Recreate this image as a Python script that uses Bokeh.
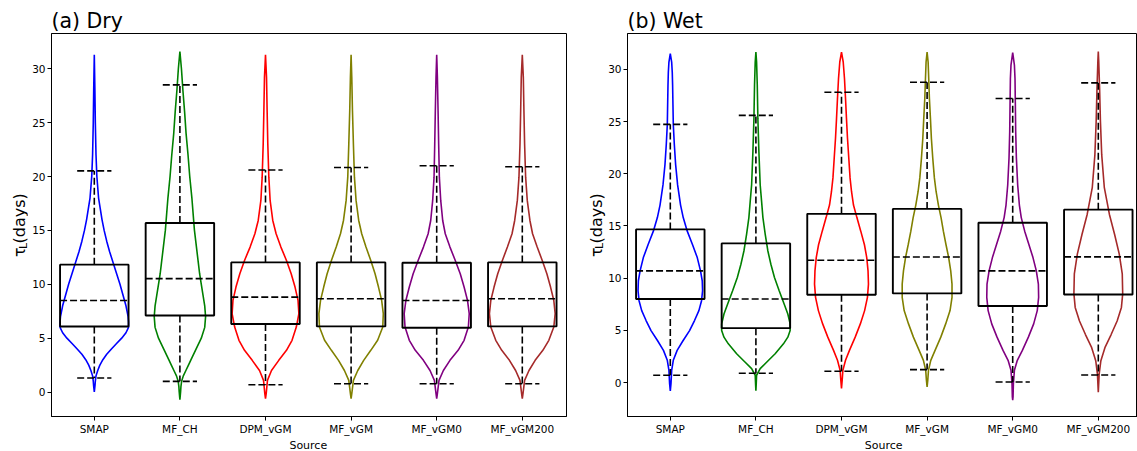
import numpy as np
from bokeh.plotting import figure
from bokeh.layouts import row, column
from bokeh.models import Range1d, FixedTicker
from bokeh.core.properties import value
from bokeh.embed import file_html
from bokeh.resources import INLINE

categories = ["SMAP", "MF_CH", "DPM_vGM", "MF_vGM", "MF_vGM0", "MF_vGM200"]
colors = ["blue", "green", "red", "olive", "purple", "brown"]
y_ticks = [0, 5, 10, 15, 20, 25, 30]

# ---- (a) Dry : box statistics ----
dry_low = [1.30, 0.99, 0.68, 0.77, 0.77, 0.77]
dry_q1 = [6.08, 7.10, 6.31, 6.09, 5.97, 6.09]
dry_med = [8.49, 10.52, 8.81, 8.66, 8.50, 8.66]
dry_q3 = [11.82, 15.68, 12.03, 12.03, 12.00, 12.03]
dry_high = [20.52, 28.50, 20.60, 20.84, 21.00, 20.90]

# ---- (a) Dry : violin profiles (value, half width) ----
dry_violin_y = [
    [0.0, 0.6, 1.0, 1.5, 2.0, 2.5, 3.0, 3.5, 4.0, 4.5, 5.0, 5.5, 6.0, 6.5, 7.0, 8.0, 9.0, 10.0, 11.0, 12.0,
     13.0, 14.0, 15.0, 16.0, 17.0, 18.0, 20.0, 22.0, 25.0, 28.0, 31.3],
    [-0.7, 0.0, 0.5, 1.0, 1.5, 2.0, 2.5, 3.0, 4.0, 5.0, 6.0, 7.0, 8.0, 9.0, 10.0, 11.0, 12.0, 13.0, 14.0, 15.0,
     16.0, 18.0, 20.0, 22.0, 24.0, 26.0, 28.0, 30.0, 31.6],
    [-0.62, -0.15, 1.08, 2.0, 2.94, 3.87, 4.8, 6.03, 7.27, 8.5, 9.74, 10.98, 12.21, 13.45, 14.69, 15.92, 17.78,
     19.94, 23.0, 26.1, 29.2, 31.3],
    [-0.62, -0.15, 1.08, 2.0, 2.94, 3.87, 4.8, 6.03, 7.27, 8.5, 9.74, 10.98, 12.21, 13.45, 14.69, 15.92, 17.78,
     19.94, 23.0, 26.1, 29.2, 31.3],
    [-0.62, -0.15, 1.08, 2.0, 2.94, 3.87, 4.8, 6.03, 7.27, 8.5, 9.74, 10.98, 12.21, 13.45, 14.69, 15.92, 17.78,
     19.94, 23.0, 26.1, 29.2, 31.3],
    [-0.62, -0.15, 1.08, 2.0, 2.94, 3.87, 4.8, 6.03, 7.27, 8.5, 9.74, 10.98, 12.21, 13.45, 14.69, 15.92, 17.78,
     19.94, 23.0, 26.1, 29.2, 31.3],
]
dry_violin_hw = [
    [0.0, 0.008, 0.012, 0.02, 0.04, 0.065, 0.10, 0.145, 0.20, 0.26, 0.32, 0.37, 0.40, 0.40, 0.395, 0.37, 0.335,
     0.30, 0.26, 0.22, 0.18, 0.145, 0.115, 0.09, 0.07, 0.05, 0.03, 0.02, 0.012, 0.007, 0.0],
    [0.0, 0.008, 0.012, 0.02, 0.04, 0.07, 0.10, 0.13, 0.19, 0.25, 0.29, 0.30, 0.29, 0.27, 0.25, 0.23, 0.215, 0.20,
     0.185, 0.17, 0.16, 0.14, 0.115, 0.095, 0.072, 0.055, 0.035, 0.018, 0.0],
    [0.0, 0.008, 0.023, 0.07, 0.155, 0.245, 0.31, 0.36, 0.39, 0.38, 0.345, 0.30, 0.245, 0.18, 0.124, 0.085, 0.054,
     0.039, 0.027, 0.019, 0.012, 0.0],
    [0.0, 0.008, 0.027, 0.078, 0.147, 0.23, 0.31, 0.37, 0.376, 0.357, 0.32, 0.28, 0.23, 0.174, 0.124, 0.089, 0.058,
     0.039, 0.027, 0.016, 0.008, 0.0],
    [0.0, 0.008, 0.027, 0.078, 0.155, 0.25, 0.32, 0.37, 0.38, 0.36, 0.32, 0.275, 0.217, 0.155, 0.10, 0.07, 0.047,
     0.031, 0.023, 0.016, 0.008, 0.0],
    [0.0, 0.008, 0.027, 0.078, 0.15, 0.24, 0.31, 0.368, 0.384, 0.368, 0.33, 0.287, 0.233, 0.174, 0.12, 0.089, 0.058,
     0.039, 0.027, 0.019, 0.012, 0.0],
]

# ---- (b) Wet : box statistics ----
wet_low = [0.70, 0.89, 1.08, 1.24, 0.06, 0.73]
wet_q1 = [8.00, 5.21, 8.41, 8.54, 7.33, 8.44]
wet_med = [10.70, 8.00, 11.71, 12.03, 10.70, 12.04]
wet_q3 = [14.67, 13.33, 16.16, 16.63, 15.30, 16.56]
wet_high = [24.73, 25.59, 27.80, 28.76, 27.20, 28.70]

# ---- (b) Wet : violin profiles (value, half width) ----
wet_violin_y = [
    [-0.79, -0.1, 1.17, 2.13, 3.08, 4.03, 4.98, 5.94, 6.89, 7.84, 8.79, 9.75, 10.7, 11.97, 13.2, 14.5, 15.8, 17.0,
     18.95, 20.9, 22.8, 24.7, 26.6, 28.5, 29.7, 30.7, 31.5],
    [-0.79, -0.1, 0.7, 1.33, 1.97, 2.76, 3.71, 4.35, 4.98, 5.62, 6.57, 7.52, 8.79, 10.06, 11.33, 12.6, 14.2, 15.8,
     17.4, 18.95, 22.1, 25.3, 28.5, 30.7, 31.65],
    [-0.57, 0.22, 1.17, 2.13, 3.08, 4.35, 5.62, 6.89, 8.16, 9.43, 10.7, 11.97, 13.2, 14.5, 15.8, 17.0, 18.3, 19.6,
     21.5, 23.4, 25.3, 27.2, 29.1, 30.7, 31.65],
    [-0.41, 0.22, 1.17, 2.13, 3.08, 4.35, 5.62, 6.89, 8.16, 9.43, 10.7, 11.97, 13.2, 14.5, 15.8, 17.0, 18.3, 19.6,
     21.5, 23.4, 25.3, 27.2, 29.1, 30.7, 31.65],
    [-1.68, -1.37, -0.1, 1.17, 2.13, 3.08, 4.35, 5.62, 6.89, 8.16, 9.43, 10.7, 11.97, 13.2, 14.5, 15.8, 17.0, 18.95,
     21.5, 24.0, 26.6, 29.1, 30.4, 31.6],
    [-0.92, 0.8, 2.1, 3.4, 4.6, 5.9, 7.2, 8.5, 10.4, 12.3, 14.2, 16.1, 18.7, 21.8, 25.0, 28.2, 30.8, 31.7],
]
wet_violin_hw = [
    [0.0, 0.008, 0.016, 0.035, 0.08, 0.15, 0.225, 0.283, 0.334, 0.365, 0.377, 0.373, 0.353, 0.315, 0.26, 0.198,
     0.151, 0.12, 0.085, 0.062, 0.047, 0.035, 0.031, 0.027, 0.023, 0.016, 0.0],
    [0.0, 0.004, 0.008, 0.05, 0.128, 0.225, 0.322, 0.373, 0.40, 0.40, 0.373, 0.33, 0.272, 0.217, 0.175, 0.14,
     0.109, 0.082, 0.066, 0.05, 0.035, 0.023, 0.016, 0.008, 0.0],
    [0.0, 0.008, 0.016, 0.047, 0.093, 0.16, 0.22, 0.27, 0.303, 0.315, 0.31, 0.295, 0.268, 0.225, 0.18, 0.14, 0.117,
     0.10, 0.085, 0.07, 0.058, 0.047, 0.035, 0.02, 0.0],
    [0.0, 0.008, 0.016, 0.043, 0.093, 0.16, 0.217, 0.268, 0.291, 0.291, 0.276, 0.252, 0.221, 0.19, 0.163, 0.132,
     0.105, 0.085, 0.066, 0.05, 0.039, 0.027, 0.019, 0.012, 0.0],
    [0.0, 0.004, 0.008, 0.02, 0.054, 0.113, 0.183, 0.245, 0.287, 0.303, 0.30, 0.276, 0.237, 0.19, 0.14, 0.10,
     0.078, 0.058, 0.043, 0.035, 0.031, 0.027, 0.02, 0.0],
    [0.0, 0.01, 0.03, 0.08, 0.15, 0.22, 0.27, 0.285, 0.28, 0.245, 0.19, 0.13, 0.07, 0.04, 0.025, 0.015, 0.005, 0.0],
]

FONT = "DejaVu Sans"
TOTAL_W = 1137
TOTAL_H = 451
TOP_H = 437              # height of the row holding the two panels
SRC_H = TOTAL_H - TOP_H  # strip below holding the "Source" axis titles
BORDER_TOP = 33
BORDER_BOTTOM = 21
PX_PER_UNIT = 85.6
BOX_W = 0.8
CAP_W = 0.4
DASH = "7 3"
LINE_W = 1.6


def blank_figure(width, height, x_end, y_start, **kw):
    s = figure(width=width, height=height, output_backend="svg", toolbar_location=None,
               x_range=Range1d(0, x_end), y_range=Range1d(y_start, 0),
               x_axis_type=None, y_axis_type=None,
               min_border_left=0, min_border_right=0, min_border_top=0, min_border_bottom=0,
               background_fill_color="white", border_fill_color="white", **kw)
    s.outline_line_color = None
    s.xgrid.grid_line_color = None
    s.ygrid.grid_line_color = None
    return s


def make_ylabel_strip(width, baseline_x):
    """Figure holding the rotated y-axis title  τ_L(days); the panel drawn next overlaps its right part."""
    s = blank_figure(width, TOP_H, width, TOP_H)
    start = 255
    s.text(x=[baseline_x], y=[start], text=["τ"], angle=np.pi / 2, text_align="left",
           text_baseline="alphabetic", text_font=value(FONT), text_font_size="16px", text_color="black")
    s.text(x=[baseline_x + 3.5], y=[start - 9], text=["L"], angle=np.pi / 2, text_align="left",
           text_baseline="alphabetic", text_font=value(FONT), text_font_size="11px", text_color="black")
    s.text(x=[baseline_x], y=[start - 15.5], text=["(days)"], angle=np.pi / 2, text_align="left",
           text_baseline="alphabetic", text_font=value(FONT), text_font_size="16px", text_color="black")
    return s


def make_panel(title, low, q1, med, q3, high, vy, vw, y_range, width, border_left, border_right, overlap):
    frame_w = width - border_left - border_right
    x_end = 0.5 + frame_w / PX_PER_UNIT
    p = figure(width=width, height=TOP_H, output_backend="svg", toolbar_location=None,
               x_range=Range1d(0.5, x_end), y_range=Range1d(*y_range),
               min_border_left=border_left, min_border_right=border_right,
               min_border_top=BORDER_TOP, min_border_bottom=BORDER_BOTTOM,
               background_fill_color="white", border_fill_color="white",
               margin=(0, 0, 0, -overlap))
    pos = np.arange(1, len(categories) + 1, dtype=float)

    # violins (outline only)
    for i in range(len(categories)):
        ys = np.asarray(vy[i], dtype=float)
        hw = np.asarray(vw[i], dtype=float)
        xs = np.concatenate([pos[i] + hw, (pos[i] - hw)[::-1]])
        yy = np.concatenate([ys, ys[::-1]])
        p.patch(xs, yy, fill_color=None, line_color=colors[i], line_width=LINE_W)

    low = np.asarray(low); q1 = np.asarray(q1); med = np.asarray(med)
    q3 = np.asarray(q3); high = np.asarray(high)

    # whiskers
    p.segment(x0=pos, y0=q3, x1=pos, y1=high, line_color="black", line_width=LINE_W, line_dash=DASH)
    p.segment(x0=pos, y0=q1, x1=pos, y1=low, line_color="black", line_width=LINE_W, line_dash=DASH)
    # caps
    p.segment(x0=pos - CAP_W / 2, y0=high, x1=pos + CAP_W / 2, y1=high, line_color="black",
              line_width=LINE_W, line_dash=DASH)
    p.segment(x0=pos - CAP_W / 2, y0=low, x1=pos + CAP_W / 2, y1=low, line_color="black",
              line_width=LINE_W, line_dash=DASH)
    # boxes
    p.quad(left=pos - BOX_W / 2, right=pos + BOX_W / 2, bottom=q1, top=q3, fill_color=None,
           line_color="black", line_width=1.9)
    # medians
    p.segment(x0=pos - BOX_W / 2, y0=med, x1=pos + BOX_W / 2, y1=med, line_color="black",
              line_width=LINE_W, line_dash=DASH)

    # axes styling
    p.xaxis.ticker = FixedTicker(ticks=list(pos))
    p.xaxis.major_label_overrides = {float(v): c for v, c in zip(pos, categories)}
    p.yaxis.ticker = FixedTicker(ticks=y_ticks)
    p.xgrid.grid_line_color = None
    p.ygrid.grid_line_color = None
    for ax in (p.xaxis, p.yaxis):
        ax.minor_tick_line_color = None
        ax.major_tick_out = 4
        ax.major_tick_in = 0
        ax.major_tick_line_color = "black"
        ax.axis_line_color = "black"
        ax.major_label_text_font = FONT
        ax.major_label_text_font_size = "10.5px"
        ax.major_label_text_color = "black"
        ax.major_label_standoff = 2
    p.outline_line_color = "black"
    p.outline_line_width = 1
    p.outline_line_alpha = 1

    p.title.text = title
    p.title.text_font = FONT
    p.title.text_font_size = "20.5px"
    p.title.text_font_style = "normal"
    p.title.text_color = "black"
    p.title.align = "left"
    p.title.standoff = 2
    return p


# geometry (page pixels): label strips are 80px wide, the panels overlap all but their first 27px
STRIP_W, STRIP_VISIBLE = 80, 27
OVERLAP = STRIP_W - STRIP_VISIBLE
P1_W = 551
P1_BL, P1_BR, P2_BL = 24, 12, 22
P2_W = TOTAL_W - 2 * STRIP_VISIBLE - P1_W

s1 = make_ylabel_strip(STRIP_W, 19)
p1 = make_panel("(a) Dry", dry_low, dry_q1, dry_med, dry_q3, dry_high, dry_violin_y, dry_violin_hw,
                (-2.27, 33.27), P1_W, P1_BL, P1_BR, OVERLAP)
s2 = make_ylabel_strip(STRIP_W, 17.5)
p2 = make_panel("(b) Wet", wet_low, wet_q1, wet_med, wet_q3, wet_high, wet_violin_y, wet_violin_hw,
                (-3.25, 33.43), P2_W, P2_BL, 0, OVERLAP)

# x-axis titles "Source", centred under each panel's nominal frame (6 category slots)
frame1_left = STRIP_VISIBLE + P1_BL
frame2_left = STRIP_VISIBLE + P1_W + STRIP_VISIBLE + P2_BL
src = blank_figure(TOTAL_W, SRC_H, TOTAL_W, SRC_H)
src.text(x=[frame1_left + 3 * PX_PER_UNIT, frame2_left + 3 * 85.4], y=[SRC_H / 2 + 1, SRC_H / 2 + 1],
         text=["Source", "Source"], text_align="center", text_baseline="middle",
         text_font=value(FONT), text_font_size="11px", text_color="black")

layout = column(row(s1, p1, s2, p2), src)
open("out.html", "w").write(file_html(layout, INLINE))
